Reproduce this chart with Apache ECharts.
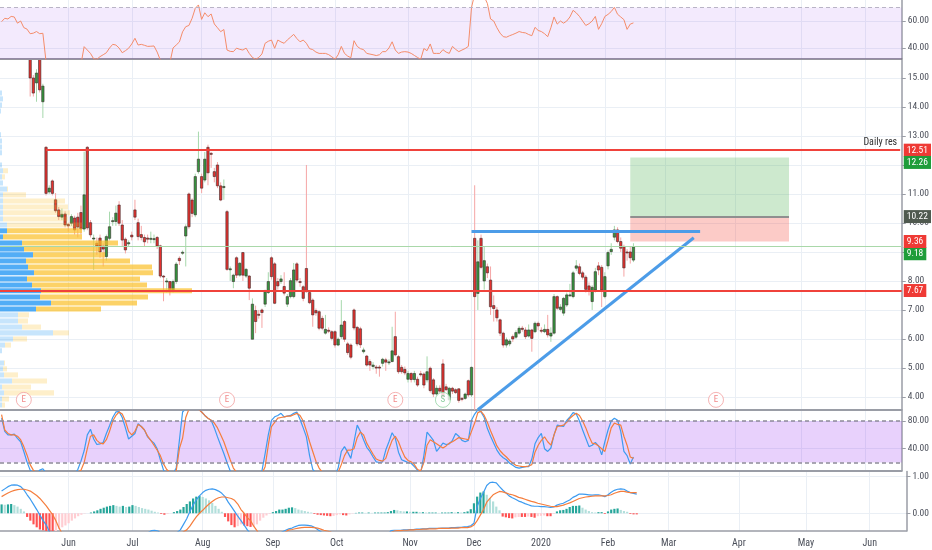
<!DOCTYPE html>
<html>
<head>
<meta charset="utf-8">
<title>Chart</title>
<script src="https://cdn.jsdelivr.net/npm/echarts@6/dist/echarts.min.js"></script>
<style>
html,body{margin:0;padding:0;background:#fff;overflow:hidden}
#chart{width:932px;height:550px}
</style>
</head>
<body>
<div id="chart"></div>
<script>
// ---------------- calendar ----------------
const holidays = ['2019-05-27','2019-07-04','2019-09-02','2019-11-28','2019-12-25','2020-01-01','2020-01-20','2020-02-17','2020-04-10','2020-05-25'];
const barCount = 284;
const monthNames = ['Jan','Feb','Mar','Apr','May','Jun','Jul','Aug','Sep','Oct','Nov','Dec'];

// ---------------- price candles (daily) ----------------
const openP = [
16.8,16.6,16.9,16.7,17.0,16.9,16.4,16.6,16.1,16.0,
15.0,14.83,15.9,14.18,12.61,11.07,11.45,10.8,10.45,10.2,
10.31,9.95,9.99,10.17,10.2,10.36,9.79,12.61,10.01,9.45,
9.3,9.48,9.2,8.84,9.47,10.06,10.05,10.62,9.93,9.44,
9.28,9.58,10.45,10.01,9.6,9.5,9.48,9.45,9.44,9.5,
9.21,8.17,7.98,7.98,7.69,7.98,8.78,8.97,9.55,11.0,
10.79,10.28,11.77,11.6,11.48,12.61,12.4,11.77,12.0,11.28,
11.22,10.39,8.4,7.98,8.8,8.2,8.98,8.17,8.17,5.99,
6.98,6.85,7.0,7.2,7.6,8.8,8.59,7.98,7.98,7.81,
7.2,7.46,7.46,8.59,7.98,7.8,8.43,7.6,7.34,6.98,
6.94,6.71,6.2,6.3,6.25,6.25,5.79,6.08,6.6,5.83,
5.79,7.0,6.4,6.35,5.56,5.41,5.22,5.05,5.03,5.03,
5.16,5.28,5.2,5.22,6.08,5.39,5.02,4.95,4.61,4.81,
4.6,4.61,4.8,4.79,4.59,4.99,4.59,4.1,4.3,5.14,
4.35,3.9,4.3,4.25,4.28,3.95,3.95,4.56,4.07,9.47,
7.57,9.47,8.0,8.49,8.03,7.15,7.0,6.66,6.2,5.79,
5.83,6.08,6.06,6.2,6.37,6.31,6.1,6.31,6.25,6.54,
6.3,6.25,6.33,6.1,6.2,7.46,7.02,6.89,7.17,7.5,
7.46,8.44,8.49,8.28,8.13,7.83,7.29,7.69,8.52,8.47,
7.46,8.52,9.01,9.51,9.76,9.36,9.18,9.0,9.0,8.72];
const closeP = [
16.6,16.9,16.7,17.0,16.9,16.4,16.6,16.1,16.0,15.0,
14.48,15.17,14.59,14.72,11.02,11.2,11.02,10.42,10.22,10.3,
9.93,9.9,10.22,9.76,9.86,9.79,10.97,9.83,9.59,9.48,
9.2,9.0,9.1,9.53,9.87,10.08,10.34,9.99,9.41,9.07,
9.32,9.52,10.2,9.53,9.5,9.35,9.44,9.47,9.46,9.2,
8.17,8.15,8.0,7.63,7.98,8.58,8.7,8.99,9.87,9.87,
10.33,11.6,12.2,11.2,12.2,11.73,12.38,11.6,11.28,10.79,
11.26,8.4,8.42,8.2,8.2,8.61,8.2,8.4,7.75,7.2,
6.6,6.83,6.91,7.63,7.98,8.15,7.23,7.83,8.07,7.58,
7.46,8.01,8.38,8.03,7.97,7.4,7.63,7.25,6.83,6.9,
6.37,6.37,6.33,6.27,6.02,5.79,5.99,6.48,5.99,5.53,
5.37,6.38,5.83,5.8,5.62,5.1,5.1,5.1,5.02,5.02,
5.3,5.2,5.21,5.59,5.45,4.87,4.87,4.83,4.81,4.6,
4.81,4.41,4.78,4.41,4.87,4.22,4.1,4.3,4.2,4.01,
4.25,4.3,4.2,4.15,3.88,3.93,4.1,4.07,5.02,7.46,
8.66,8.47,8.7,8.28,7.11,7.05,6.73,6.2,5.79,5.97,
5.93,6.0,6.22,6.37,6.33,6.08,6.31,6.02,6.54,6.45,
6.28,6.33,6.14,6.2,7.46,7.06,7.1,7.4,7.52,7.52,
8.28,8.52,8.26,8.13,7.71,7.67,7.78,8.32,8.38,7.69,
8.15,8.98,9.09,9.76,9.36,9.13,8.45,8.99,8.8,9.18];
const highP = [
17.0,17.1,17.0,17.2,17.2,17.0,16.8,16.7,16.3,16.1,
15.1,15.3,16.0,14.8,12.65,11.3,11.5,11.03,10.55,10.5,
10.4,10.0,10.3,10.25,10.35,10.6,12.46,12.65,10.1,9.6,
9.5,9.6,9.3,9.6,10.39,10.2,10.6,10.75,10.1,9.5,
9.4,9.7,10.8,10.15,9.9,9.6,9.6,9.7,9.6,9.55,
9.25,8.2,8.1,8.0,8.05,8.65,8.85,9.05,9.95,11.05,
10.85,11.7,13.15,11.7,12.45,12.7,12.45,11.9,12.1,11.4,
11.5,10.45,8.5,8.25,8.85,8.65,9.0,8.45,8.2,7.4,
7.15,7.0,7.05,7.7,8.3,8.85,8.65,8.1,8.2,8.3,
7.55,8.1,8.62,8.65,8.1,7.85,12.0,7.65,7.4,7.05,
7.0,6.8,6.83,6.4,6.3,6.3,6.05,7.34,6.65,5.9,
5.85,7.05,6.45,6.42,5.7,5.45,5.3,5.2,5.1,5.1,
5.35,5.35,5.3,6.42,6.94,5.45,5.1,5.05,4.9,4.85,
4.9,4.7,4.9,4.85,5.4,5.05,4.65,4.4,4.4,5.3,
4.45,4.35,4.35,4.3,4.3,4.0,4.15,4.6,5.05,11.3,
9.4,9.6,9.2,8.6,8.5,7.5,7.1,6.7,6.25,6.05,
6.0,6.15,6.3,6.45,6.45,6.4,6.5,6.35,6.6,6.6,
6.4,6.5,6.83,6.4,7.55,7.5,7.2,7.45,7.6,7.9,
8.35,8.72,8.6,8.35,8.2,7.95,7.85,8.45,8.65,8.55,
8.3,9.05,9.3,9.9,9.85,9.5,9.25,9.1,9.2,9.3];
const lowP = [
16.4,16.5,16.5,16.6,16.7,16.3,16.2,15.9,15.8,14.36,
14.36,14.18,14.5,13.62,10.95,11.0,10.95,10.35,10.1,10.1,
9.85,9.7,9.9,9.6,9.5,9.6,9.7,9.75,9.5,8.38,
8.9,8.8,8.5,8.7,9.4,9.9,9.9,9.9,9.2,8.95,
9.2,9.4,10.1,9.4,9.4,9.2,9.3,9.3,9.3,9.1,
8.1,7.3,7.6,7.5,7.6,7.9,8.55,8.9,8.5,9.8,
10.2,10.2,11.7,11.03,11.4,11.3,11.9,11.4,11.2,10.75,
10.8,8.35,8.0,7.75,8.1,8.15,8.0,8.1,7.34,5.99,
6.2,6.7,6.38,7.1,7.55,8.05,7.2,7.7,7.9,7.5,
7.1,7.4,7.4,7.95,7.8,7.3,7.6,7.2,6.42,6.8,
6.3,6.3,6.15,6.2,5.95,5.7,5.75,6.0,5.9,5.45,
5.3,6.3,5.75,5.69,5.5,5.05,4.9,4.95,4.8,4.7,
5.05,4.9,5.1,5.2,5.4,4.8,4.8,4.75,4.5,4.5,
4.5,4.35,4.7,4.3,4.5,4.15,4.0,4.05,4.1,3.95,
4.2,3.85,4.1,4.1,3.8,3.85,3.9,4.0,4.0,3.5,
7.0,8.4,7.7,8.1,6.83,6.6,6.6,6.1,5.7,5.7,
5.75,5.9,6.0,6.15,6.25,6.0,6.05,5.56,6.2,6.3,
6.2,6.2,6.05,5.9,6.15,7.0,6.95,6.8,7.1,7.45,
7.4,8.35,8.2,8.05,7.6,7.5,7.0,7.6,8.2,7.1,
7.4,8.4,8.9,9.4,9.3,9.0,8.15,8.7,8.6,8.65];

// ---------------- RSI ----------------
const rsi = [
59.5,62,61.5,63.4,63,58.4,60,55.1,54,50.6,
51,52.2,50.6,50.9,30,28,26,24,23,24,
22,22,24,22,23,28,41,38.5,36,32,
31.6,33.6,35,36.5,40,42.7,42.2,40,36.5,38,
39.8,43,47.2,42.2,42.7,42,41.2,41.3,41.5,37,
31,27,25,29,40,42.2,44.5,52,55.8,56.7,
62,69.4,71.9,61.2,66.1,63.2,65.2,57.8,55,52.1,
53.7,38.5,37.5,37.3,39.9,39,38.5,39.9,36,33,
31.6,33,35.6,43.5,45,45.9,39.8,45.9,44.5,43.5,
46,48,50.1,47,44.6,45.9,43.5,39.5,38.8,37,
36,36,36,35.1,33.5,31.6,35,41.2,36,34,
32.8,45.4,41.2,39.5,38.8,36,35.5,35,34.4,35,
37.3,37.3,40,44.6,38.5,36,37,37.3,37,36,
34.5,33,31.6,39.6,38,43,36,36,36,38.8,
37,36,41.2,39,37.3,38.5,39.6,41.2,70,80,
85,82,78,73,61.5,60,55,51,48.4,48,
49.1,50,51,52.2,51.5,51.2,50,49.1,55.3,53,
52.2,50.6,48.4,55,63,57.7,60,58.4,60,63,
67.9,66,63.4,60,56.7,58,60,63.4,53.8,58,
63.4,64.9,67,70.1,65,63,61,53.8,57.7,58.6];

// ---------------- Stochastic ----------------
const stochK = [
84,65,60,60,61,55,50,36,21,9,
4,3,9,11,5,1,2,3,2,4,
3,2,4,3,10,22,37,60,68,54,
46,47,49,62,73,85,93,93.5,85,70,
54,58,62,76,72,67,57,52,48,40,
24,9,3,2,4,12,52,93,98,100,
99,99,98,93,88,84,81,70,57,45,
33,20,8,3,5,4,2,3,2,1,
2,3,8,33,60,81,86,88,91,86,
87,88,91,93,82,70,57,30,10,5,
3,2,3,2,3,2,12,36,43,35,
26,50,74,65,53,42,36,28,21,20,
21,38,50,63,55,35,24,22,20,19,
14,9,5,30,64,58,52,36,42,48,
46,47,52,62,58,52,50,52,81,90,
96,93,85,69,58,48,38,31,27,24,
19,16,13,12,13,14,14,25,47,56,
62,40,36,41,60,74,73,72,81,86,
92,90,80,67,55,43,45,49,44,31,
50,67,80,84,81,65,36,30,18,28];
const stochD = [
89,67,62,60,60,58,53,43,31,17,
9,5,5,7,7,5,3,2,2,3,
3,3,3,3,6,9,20,40,58,60,
52,48,47,53,65,80,88,93,90,80,
65,60,65,75,72,67,58,52,45,38,
30,18,10,6,5,8,40,55,85,97,
99,99,97,93,88,84,81,77,70,60,
50,37,24,12,6,4,3,3,2,2,
2,2,4,14,45,72,78,84,85,86,
87,87,89,91,88,80,66,50,36,22,
12,6,4,3,3,3,6,17,30,38,
38,40,56,64,60,48,40,32,25,23,
22,26,40,52,58,50,38,28,23,21,
17,10,8,20,45,53,50,47,44,41,
44,48,50,53,56,55,54,53,65,77,
92,94,88,78,66,55,44,37,32,28,
23,19,16,15,14,14,15,17,35,45,
52,57,50,45,60,72,73,74,78,84,
88,91,88,80,70,58,48,47,44,40,
36,52,70,77,75,74,58,45,28,26];

// ---------------- MACD ----------------
const macdLine = [
0.6,0.66,0.72,0.76,0.77,0.76,0.72,0.63,0.5,0.38,
0.24,0.1,-0.05,-0.2,-0.32,-0.5,-0.65,-0.8,-0.9,-0.95,
-1.0,-1.02,-1.03,-1.05,-1.06,-1.06,-0.98,-1.0,-1.0,-1.0,
-1.0,-0.98,-0.95,-0.92,-0.85,-0.8,-0.75,-0.72,-0.72,-0.72,
-0.7,-0.68,-0.62,-0.6,-0.6,-0.58,-0.52,-0.47,-0.46,-0.48,
-0.55,-0.62,-0.65,-0.64,-0.6,-0.52,-0.45,-0.3,-0.15,0.05,
0.22,0.36,0.47,0.56,0.62,0.65,0.66,0.64,0.6,0.54,
0.45,0.3,0.18,0.05,-0.08,-0.2,-0.32,-0.45,-0.55,-0.7,
-0.8,-0.85,-0.85,-0.8,-0.72,-0.65,-0.62,-0.56,-0.5,-0.46,
-0.42,-0.4,-0.36,-0.33,-0.32,-0.32,-0.33,-0.34,-0.38,-0.44,
-0.5,-0.56,-0.6,-0.65,-0.7,-0.75,-0.78,-0.75,-0.74,-0.78,
-0.8,-0.75,-0.74,-0.75,-0.76,-0.78,-0.78,-0.76,-0.74,-0.7,
-0.65,-0.58,-0.47,-0.46,-0.46,-0.46,-0.45,-0.45,-0.44,-0.44,
-0.43,-0.43,-0.42,-0.42,-0.41,-0.41,-0.41,-0.41,-0.4,-0.4,
-0.4,-0.39,-0.39,-0.38,-0.38,-0.37,-0.36,-0.34,-0.27,0.18,
0.4,0.56,0.75,0.83,0.84,0.82,0.72,0.63,0.55,0.47,
0.42,0.38,0.33,0.3,0.26,0.23,0.2,0.19,0.19,0.18,
0.18,0.17,0.16,0.17,0.22,0.25,0.27,0.32,0.36,0.43,
0.47,0.52,0.52,0.51,0.5,0.49,0.5,0.5,0.48,0.45,
0.5,0.57,0.62,0.65,0.66,0.65,0.6,0.56,0.54,0.52];
const macdSignal = [
0.45,0.5,0.55,0.59,0.62,0.64,0.65,0.65,0.63,0.6,
0.54,0.48,0.4,0.3,0.2,0.08,-0.04,-0.2,-0.4,-0.55,
-0.65,-0.72,-0.78,-0.85,-0.9,-0.95,-0.97,-0.99,-1.0,-1.02,
-1.03,-1.04,-1.04,-1.03,-1.0,-0.98,-0.95,-0.92,-0.9,-0.88,
-0.86,-0.84,-0.82,-0.78,-0.76,-0.74,-0.72,-0.7,-0.68,-0.66,
-0.65,-0.64,-0.63,-0.64,-0.62,-0.6,-0.57,-0.5,-0.45,-0.35,
-0.22,-0.1,0.0,0.08,0.17,0.25,0.32,0.38,0.42,0.44,
0.44,0.42,0.4,0.35,0.25,0.1,0.0,-0.12,-0.2,-0.35,
-0.47,-0.6,-0.7,-0.76,-0.76,-0.73,-0.7,-0.64,-0.6,-0.5,
-0.45,-0.44,-0.42,-0.4,-0.39,-0.38,-0.38,-0.38,-0.39,-0.4,
-0.43,-0.46,-0.48,-0.5,-0.55,-0.6,-0.64,-0.68,-0.7,-0.72,
-0.74,-0.75,-0.75,-0.75,-0.75,-0.76,-0.76,-0.76,-0.75,-0.72,
-0.66,-0.58,-0.52,-0.48,-0.47,-0.47,-0.46,-0.46,-0.45,-0.45,
-0.44,-0.44,-0.43,-0.43,-0.42,-0.42,-0.42,-0.41,-0.41,-0.41,
-0.41,-0.4,-0.4,-0.4,-0.39,-0.39,-0.39,-0.37,-0.32,-0.2,
-0.05,0.1,0.3,0.4,0.5,0.55,0.59,0.58,0.55,0.52,
0.5,0.47,0.43,0.41,0.38,0.35,0.32,0.3,0.27,0.25,
0.23,0.21,0.19,0.18,0.18,0.2,0.22,0.25,0.28,0.32,
0.36,0.4,0.42,0.44,0.45,0.46,0.47,0.47,0.47,0.47,
0.48,0.5,0.54,0.57,0.59,0.59,0.57,0.56,0.56,0.56];
const macdHist = [
0.24,0.23,0.24,0.25,0.22,0.18,0.12,0.05,-0.1,-0.2,
-0.3,-0.38,-0.44,-0.46,-0.48,-0.5,-0.5,-0.48,-0.43,-0.38,
-0.33,-0.27,-0.2,-0.14,-0.08,-0.04,-0.01,0.0,0.02,0.05,
0.08,0.12,0.15,0.18,0.2,0.22,0.2,0.18,0.2,0.17,
0.18,0.22,0.2,0.17,0.14,0.12,0.1,0.07,0.04,0.02,
-0.02,-0.04,-0.02,0.0,0.03,0.06,0.1,0.17,0.25,0.32,
0.4,0.45,0.47,0.44,0.4,0.35,0.28,0.2,0.12,0.04,
-0.1,-0.22,-0.32,-0.38,-0.35,-0.3,-0.33,-0.35,-0.37,-0.36,
-0.3,-0.2,-0.12,-0.06,-0.02,0.03,0.06,0.1,0.1,0.12,
0.15,0.16,0.14,0.1,0.08,0.06,0.04,0.02,-0.02,-0.04,
-0.05,-0.06,-0.07,-0.08,-0.07,-0.05,-0.03,-0.05,-0.06,-0.03,
-0.01,0.01,0.02,0.02,0.01,0.02,0.01,0.02,0.02,0.02,
0.02,0.03,0.06,0.09,0.08,0.06,0.05,0.05,0.04,0.04,
0.04,0.03,0.03,0.02,0.02,0.02,0.02,0.01,0.02,0.02,
0.02,0.03,0.02,0.03,0.02,0.03,0.05,0.11,0.27,0.45,
0.56,0.59,0.5,0.41,0.32,0.18,0.08,-0.09,-0.11,-0.13,
-0.14,-0.11,-0.1,-0.1,-0.1,-0.09,-0.1,-0.12,-0.08,-0.07,
-0.06,-0.08,-0.08,-0.02,0.05,0.08,0.09,0.12,0.17,0.2,
0.2,0.21,0.15,0.1,0.06,0.03,0.02,0.03,0.03,-0.02,
0.05,0.1,0.12,0.13,0.09,0.06,0.04,-0.02,-0.03,-0.03];

// ---------------- Volume profile (rows: mid price, up volume, down volume) ----------------
const profileMid = [3.72,3.93,4.14,4.34,4.55,4.76,4.97,5.17,5.38,5.59,5.79,6.00,6.21,6.41,6.62,6.83,7.03,7.24,7.45,7.66,
  7.86,8.07,8.28,8.48,8.69,8.90,9.10,9.31,9.52,9.73,9.93,10.14,10.35,10.55,10.76,10.97,11.17,11.38,11.59,11.80,
  12.00,12.21,12.42,12.62,12.83,13.04,13.86,14.07,14.28,14.48];
const profileUp = [2,2,4,2,12,4,3,4,0,2,5,13,53,22,18,18,36,51,40,41,
  32,27,34,28,26,33,24,22,3,7,7,3,3,3,3,3,7,3,2,3,
  2,0,2,2,2,1,1,2,3,2];
const profileDown = [3,7,50,29,35,14,4,1,0,0,6,14,16,19,10,11,65,86,108,151,
  115,113,119,124,104,72,76,96,79,75,75,65,67,65,62,23,1,0,3,5,
  0,0,0,0,0,0,0,0,0,0];
const profileStep = 0.207;
const valueArea = [6.95, 9.8];

// ---------------- drawings / levels ----------------
const dailyRes = {from: 14, price: 12.51};
const supportLevel = 7.67;
const lastPrice = 9.18;
const topLine = {from: 148, to: 220, price: 9.70};
const riseLine = {from: [150, 3.56], to: [218, 9.49]};
const longPos = {from: 198, to: 248, target: 12.26, entry: 10.22, stop: 9.36};
const earningsBars = [7, 71, 124, 225];
const splitBars = [139];
const markerPrice = 3.9;
const priceTicks = [4,5,6,7,8,9,10,11,12,13,14,15];
const rsiTicks = [40, 60];
const stochTicks = [40, 80];
const macdTicks = [0, 1];
const rsiBand = [30, 70];
const stochBand = [20, 80];

// ---------------- helpers ----------------
function buildDates() {
  const out = [];
  const d = new Date(Date.UTC(2019, 4, 2));
  while (out.length < barCount) {
    const dow = d.getUTCDay();
    const s = d.toISOString().slice(0, 10);
    if (dow !== 0 && dow !== 6 && holidays.indexOf(s) < 0) out.push(s);
    d.setUTCDate(d.getUTCDate() + 1);
  }
  return out;
}
const dates = buildDates();
function isMonthStart(i) { return i > 0 && dates[i].slice(0, 7) !== dates[i - 1].slice(0, 7); }
function monthLabel(v) { const m = +v.slice(5, 7); return m === 1 ? v.slice(0, 4) : monthNames[m - 1]; }

const FONT = "'Liberation Sans Narrow','Roboto Condensed','Roboto','Liberation Sans',sans-serif";
const TEXT = '#4a4e59';
const GRID = '#eaeff5';
const AXIS = '#9a9da6';
const RED_TAG = '#ef3a35';
const GREEN_TAG = '#1f9d3a';
const PRICE_MIN = 3.55, PRICE_MAX = 15.62;

const gridBox = {left: 0, right: 25};
const grids = [
  Object.assign({top: 0, height: 59}, gridBox),
  Object.assign({top: 60, height: 350}, gridBox),
  Object.assign({top: 411, height: 59.5}, gridBox),
  Object.assign({top: 471.5, height: 59.5}, gridBox),
  Object.assign({top: 60, height: 350}, gridBox)
];

function catAxis(gi, showLabel, lineColor, lineWidth) {
  return {
    type: 'category', gridIndex: gi, data: dates, boundaryGap: true,
    axisLine: {show: true, onZero: false, lineStyle: {color: lineColor, width: lineWidth}},
    axisTick: {show: false},
    axisLabel: {show: showLabel, interval: isMonthStart, formatter: monthLabel, color: TEXT, fontSize: 10, margin: 7, fontFamily: FONT},
    splitLine: {show: true, interval: isMonthStart, alignWithLabel: true, lineStyle: {color: GRID, width: 1}}
  };
}
function valAxis(gi, min, max, ticks) {
  return {
    type: 'value', gridIndex: gi, position: 'right', min: min, max: max,
    axisLine: {show: true, lineStyle: {color: AXIS, width: 1.5}},
    axisTick: {show: true, length: 4, customValues: ticks, lineStyle: {color: AXIS}},
    axisLabel: {show: true, customValues: ticks, formatter: function (v) { return Number(v).toFixed(2); }, color: TEXT, fontSize: 9.5, margin: 6, fontFamily: FONT},
    splitLine: {show: true, lineStyle: {color: GRID, width: 1}}
  };
}
const HIDDEN_LINE = {color: 'rgba(0,0,0,0)', width: 0, type: 'solid'};
function tag(value, bg, dy, lineStyle) {
  return {
    yAxis: value,
    lineStyle: lineStyle || HIDDEN_LINE,
    label: {show: true, position: 'end', distance: 2, formatter: value.toFixed(2), backgroundColor: bg, color: '#ffffff',
      padding: [2, 3, 1, 3], fontSize: 9.5, fontFamily: FONT, offset: [0, dy || 0], opacity: 1}
  };
}

const candleData = openP.map(function (o, i) { return [i, o, closeP[i], lowP[i], highP[i]]; });
const profileData = profileMid.map(function (m, i) { return [m, profileUp[i], profileDown[i]]; });

const chart = echarts.init(document.getElementById('chart'), null, {renderer: 'canvas'});
const option = {
  animation: false,
  backgroundColor: '#ffffff',
  textStyle: {fontFamily: FONT},
  grid: grids,
  xAxis: [
    catAxis(0, false, '#76737f', 1.5),
    catAxis(1, false, AXIS, 2),
    catAxis(2, false, AXIS, 2),
    catAxis(3, true, AXIS, 1.5),
    {type: 'value', gridIndex: 4, min: 0, max: 907, show: false}
  ],
  yAxis: [
    valAxis(0, 31.85, 75.56, rsiTicks),
    valAxis(1, PRICE_MIN, PRICE_MAX, priceTicks),
    valAxis(2, 8.5, 94.4, stochTicks),
    valAxis(3, -0.48, 1.13, macdTicks),
    {type: 'value', gridIndex: 4, min: PRICE_MIN, max: PRICE_MAX, show: false}
  ],
  series: [
    // RSI
    {
      type: 'line', xAxisIndex: 0, yAxisIndex: 0, data: rsi, symbol: 'none', clip: true,
      lineStyle: {color: '#f48c6a', width: 1}, z: 3,
      markArea: {silent: true, itemStyle: {color: 'rgba(150,60,240,0.11)'},
        data: [[{yAxis: Math.max(rsiBand[0], 31.85)}, {yAxis: rsiBand[1]}]]},
      markLine: {silent: true, symbol: ['none', 'none'], label: {show: false},
        lineStyle: {color: '#b9b4c6', type: [4, 3], width: 1}, data: [{yAxis: rsiBand[1]}]}
    },
    // candles
    {
      type: 'custom', xAxisIndex: 1, yAxisIndex: 1, data: candleData, clip: true, z: 2,
      encode: {x: 0, y: [1, 2, 3, 4]},
      renderItem: function (params, api) {
        const x = api.value(0), o = api.value(1), c = api.value(2), lo = api.value(3), hi = api.value(4);
        const pH = api.coord([x, hi]), pL = api.coord([x, lo]);
        const pT = api.coord([x, Math.max(o, c)]), pB = api.coord([x, Math.min(o, c)]);
        const bw = api.size([1, 0])[0] * 0.74;
        const up = c >= o;
        return {type: 'group', children: [
          {type: 'line', shape: {x1: pH[0], y1: pH[1], x2: pL[0], y2: pL[1]}, style: {stroke: up ? '#a6d8ac' : '#f5a5a5', lineWidth: 1}},
          {type: 'rect', shape: {x: pT[0] - bw / 2, y: pT[1], width: bw, height: Math.max(pB[1] - pT[1], 1)},
            style: {fill: up ? '#35963f' : '#e5312e', stroke: '#3a2c2c', lineWidth: 0.6}}
        ]};
      }
    },
    // volume profile
    {
      type: 'custom', xAxisIndex: 4, yAxisIndex: 4, data: profileData, clip: true, z: 3,
      encode: {x: [1, 2], y: 0},
      renderItem: function (params, api) {
        const mid = api.value(0), up = api.value(1), dn = api.value(2);
        const half = profileStep * 0.42;
        const inVA = mid >= valueArea[0] && mid <= valueArea[1];
        const a = api.coord([0, mid + half]);
        const b = api.coord([up, mid - half]);
        const c = api.coord([up + dn, mid - half]);
        return {type: 'group', children: [
          {type: 'rect', shape: {x: a[0], y: a[1], width: b[0] - a[0], height: b[1] - a[1]},
            style: {fill: inVA ? 'rgba(33,150,243,0.78)' : 'rgba(33,150,243,0.25)'}},
          {type: 'rect', shape: {x: b[0], y: a[1], width: c[0] - b[0], height: c[1] - a[1]},
            style: {fill: inVA ? 'rgba(251,192,45,0.72)' : 'rgba(251,192,45,0.25)'}}
        ]};
      }
    },
    // drawings, levels, position box
    {
      type: 'line', xAxisIndex: 1, yAxisIndex: 1, data: [], z: 5,
      markArea: {silent: true, data: [
        [{coord: [longPos.from, longPos.target], itemStyle: {color: 'rgba(76,175,80,0.28)'}}, {coord: [longPos.to, longPos.entry]}],
        [{coord: [longPos.from, longPos.entry], itemStyle: {color: 'rgba(244,67,54,0.28)'}}, {coord: [longPos.to, longPos.stop]}]
      ]},
      markLine: {silent: true, symbol: ['none', 'none'], data: [
        [{coord: [dailyRes.from, dailyRes.price], lineStyle: {color: '#f0423b', width: 2, type: 'solid'},
          label: {show: true, position: 'insideEndTop', formatter: 'Daily res', color: '#333333', fontSize: 10, fontFamily: FONT, distance: 3}},
         {coord: [barCount - 1, dailyRes.price]}],
        [{coord: [longPos.from, longPos.entry], lineStyle: {color: '#8f8f8f', width: 2, type: 'solid'}, label: {show: false}},
         {coord: [longPos.to, longPos.entry]}],
        [{coord: [topLine.from, topLine.price], lineStyle: {color: '#4c9ce8', width: 3, type: 'solid'}, label: {show: false}},
         {coord: [topLine.to, topLine.price]}],
        [{coord: riseLine.from, lineStyle: {color: '#4c9ce8', width: 3, type: 'solid'}, label: {show: false}},
         {coord: riseLine.to}],
        tag(lastPrice, GREEN_TAG, 7, {color: '#a9d8a9', width: 1, type: 'solid'}),
        tag(supportLevel, RED_TAG, 0, {color: '#f0423b', width: 2, type: 'solid'})
      ]}
    },
    // right-axis price tags for the drawing levels
    {
      type: 'line', xAxisIndex: 1, yAxisIndex: 1, data: [], z: 6,
      markLine: {silent: true, symbol: ['none', 'none'], data: [
        tag(dailyRes.price, RED_TAG, 0),
        tag(longPos.target, GREEN_TAG, 5),
        tag(longPos.entry, '#4f594f', 0),
        tag(longPos.stop, RED_TAG, 0)
      ]}
    },
    // earnings markers
    {
      type: 'scatter', xAxisIndex: 1, yAxisIndex: 1, z: 4,
      data: earningsBars.map(function (b) { return [b, markerPrice]; }),
      symbol: 'circle', symbolSize: 15,
      itemStyle: {color: '#ffffff', borderColor: '#f3a0a0', borderWidth: 1},
      label: {show: true, position: 'inside', formatter: 'E', color: '#ee6b6b', fontSize: 9, fontFamily: FONT}
    },
    {
      type: 'scatter', xAxisIndex: 1, yAxisIndex: 1, z: 4,
      data: splitBars.map(function (b) { return [b, markerPrice]; }),
      symbol: 'circle', symbolSize: 15,
      itemStyle: {color: '#ffffff', borderColor: '#95d5a4', borderWidth: 1},
      label: {show: true, position: 'inside', formatter: 'S', color: '#6cc184', fontSize: 9, fontFamily: FONT}
    },
    // Stochastic
    {
      type: 'line', xAxisIndex: 2, yAxisIndex: 2, data: stochK, symbol: 'none', clip: true, z: 3,
      lineStyle: {color: '#3d9bf0', width: 1.2},
      markArea: {silent: true, itemStyle: {color: 'rgba(146,40,240,0.21)'}, data: [[{yAxis: stochBand[0]}, {yAxis: stochBand[1]}]]},
      markLine: {silent: true, symbol: ['none', 'none'], label: {show: false},
        lineStyle: {color: '#8f8b99', type: [4, 3], width: 1.5}, data: [{yAxis: stochBand[0]}, {yAxis: stochBand[1]}]}
    },
    {
      type: 'line', xAxisIndex: 2, yAxisIndex: 2, data: stochD, symbol: 'none', clip: true, z: 3,
      lineStyle: {color: '#f57d3c', width: 1.2}
    },
    // MACD
    {
      type: 'bar', xAxisIndex: 3, yAxisIndex: 3, data: macdHist, barWidth: '68%', clip: true, z: 2,
      itemStyle: {color: function (p) {
        const v = macdHist[p.dataIndex];
        const prev = p.dataIndex > 0 ? macdHist[p.dataIndex - 1] : v;
        if (v >= 0) return v >= prev ? '#26a69a' : '#b2dfdb';
        return v <= prev ? '#ff5252' : '#ffcdd2';
      }}
    },
    {
      type: 'line', xAxisIndex: 3, yAxisIndex: 3, data: macdLine, symbol: 'none', clip: true, z: 3,
      lineStyle: {color: '#3d9bf0', width: 1.2}
    },
    {
      type: 'line', xAxisIndex: 3, yAxisIndex: 3, data: macdSignal, symbol: 'none', clip: true, z: 3,
      lineStyle: {color: '#f57d3c', width: 1.2}
    }
  ]
};
chart.setOption(option);
</script>
</body>
</html>
